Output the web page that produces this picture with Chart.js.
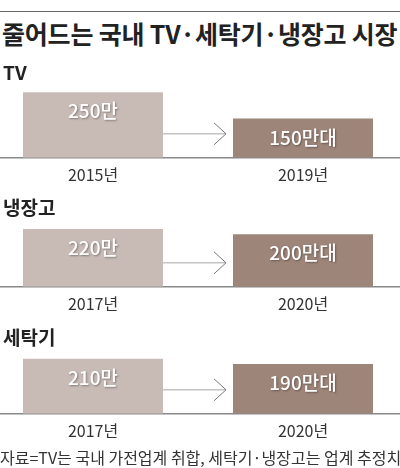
<!DOCTYPE html>
<html>
<head>
<meta charset="utf-8">
<script src="https://cdn.jsdelivr.net/npm/chart.js@4"></script>
<style>
  html, body { margin: 0; padding: 0; background: #fff; }
  body { width: 400px; height: 468px; overflow: hidden; position: relative;
         font-family: "Noto Sans CJK KR", "Noto Sans", sans-serif; color: #333; }
  .topline { position: absolute; left: 0; top: 11px; width: 400px; height: 1px; background: #666; }
  .title { position: absolute; left: 2px; top: 15px; font-size: 25px; font-weight: 700;
           color: #222; white-space: nowrap; line-height: 36px; letter-spacing: -0.2px; }
  .label { position: absolute; left: 3px; font-size: 19px; font-weight: 700; color: #222;
           line-height: 24px; white-space: nowrap; }
  .panel { position: absolute; left: -12px; width: 420px; height: 114px; }
  .source { position: absolute; left: 0; top: 446px; font-size: 16px; color: #333;
            white-space: nowrap; line-height: 22px; letter-spacing: 0; }
</style>
</head>
<body>
<div class="topline"></div>
<div class="title">줄어드는 국내 TV·세탁기·냉장고 시장</div>

<div class="panel" style="top:79px"><canvas id="chart_tv"></canvas></div>
<div class="panel" style="top:208px"><canvas id="chart_fridge"></canvas></div>
<div class="panel" style="top:335px"><canvas id="chart_washer"></canvas></div>

<div class="label" style="top:60px">TV</div>
<div class="label" style="top:195px">냉장고</div>
<div class="label" style="top:325px">세탁기</div>

<div class="source">자료=TV는 국내 가전업계 취합, 세탁기·냉장고는 업계 추정치</div>

<script>
// 데이터
var tvYears = ['2015년', '2019년'];
var tvValues = [250, 150];
var tvLabels = ['250만', '150만대'];

var fridgeYears = ['2017년', '2020년'];
var fridgeValues = [220, 200];
var fridgeLabels = ['220만', '200만대'];

var washerYears = ['2017년', '2020년'];
var washerValues = [210, 190];
var washerLabels = ['210만', '190만대'];

var barColors = ['#c8bbb6', '#9e857a'];
var yMax = 300;

var FONT = '"Noto Sans CJK KR", "Noto Sans", sans-serif';

// 막대 안 숫자
var valueLabelPlugin = {
  id: 'valueLabels',
  afterDatasetsDraw: function (chart) {
    var ctx = chart.ctx;
    var labels = chart.options.plugins.valueLabels.labels;
    var meta = chart.getDatasetMeta(0);
    ctx.save();
    ctx.font = '500 19px ' + FONT;
    ctx.fillStyle = '#fff';
    ctx.textAlign = 'center';
    ctx.textBaseline = 'middle';
    ctx.shadowColor = 'rgba(0,0,0,0.35)';
    ctx.shadowBlur = 2;
    ctx.shadowOffsetX = 1;
    ctx.shadowOffsetY = 1;
    meta.data.forEach(function (bar, i) {
      ctx.fillText(labels[i], bar.x, bar.y + 19);
    });
    ctx.restore();
  }
};

// 화살표
var arrowPlugin = {
  id: 'arrow',
  afterDatasetsDraw: function (chart) {
    var ctx = chart.ctx;
    var meta = chart.getDatasetMeta(0);
    var b0 = meta.data[0], b1 = meta.data[1];
    var x0 = b0.x + b0.width / 2;
    var x1 = b1.x - b1.width / 2 - 7;
    var y = chart.scales.y.getPixelForValue(0) - 24;
    ctx.save();
    ctx.strokeStyle = '#c4c4c4';
    ctx.lineWidth = 1.5;
    ctx.beginPath();
    ctx.moveTo(x0, y);
    ctx.lineTo(x1, y);
    ctx.stroke();
    ctx.strokeStyle = '#777';
    ctx.lineWidth = 1;
    ctx.beginPath();
    ctx.moveTo(x1 - 12, y - 11);
    ctx.lineTo(x1, y);
    ctx.lineTo(x1 - 12, y + 11);
    ctx.stroke();
    ctx.restore();
  }
};

function makeChart(id, years, values, labels) {
  var c = document.getElementById(id).getContext('2d');
  return new Chart(c, {
    type: 'bar',
    data: {
      labels: years,
      datasets: [{
        data: values,
        backgroundColor: barColors,
        borderWidth: 0,
        barPercentage: 1,
        categoryPercentage: 140 / 210
      }]
    },
    options: {
      responsive: true,
      maintainAspectRatio: false,
      animation: false,
      layout: { padding: 0 },
      plugins: {
        legend: { display: false },
        tooltip: { enabled: false },
        valueLabels: { labels: labels }
      },
      scales: {
        x: {
          grid: { display: false, drawTicks: false },
          border: { display: true, color: '#888', width: 1.5 },
          ticks: { color: '#333', padding: 8, font: { family: FONT, size: 16 } }
        },
        y: {
          display: false,
          min: 0,
          max: yMax
        }
      }
    },
    plugins: [valueLabelPlugin, arrowPlugin]
  });
}

makeChart('chart_tv', tvYears, tvValues, tvLabels);
makeChart('chart_fridge', fridgeYears, fridgeValues, fridgeLabels);
makeChart('chart_washer', washerYears, washerValues, washerLabels);
</script>
</body>
</html>
